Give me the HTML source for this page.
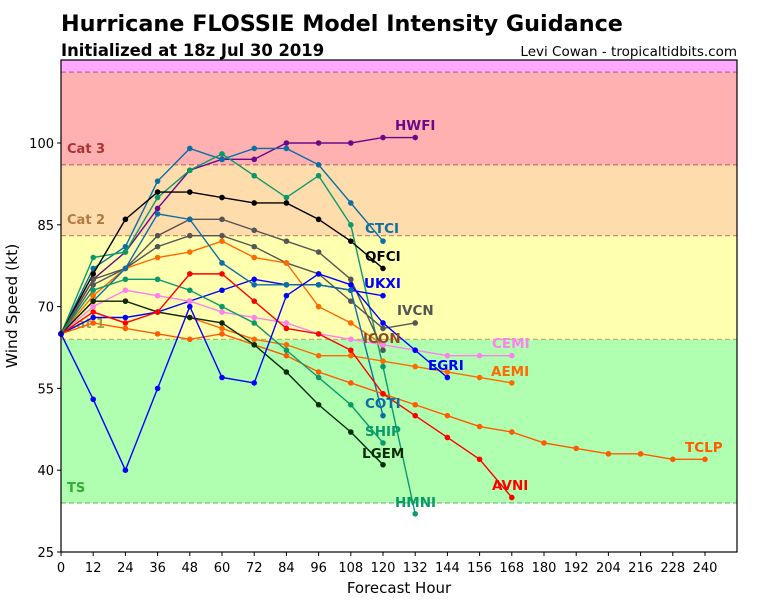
<!DOCTYPE html>
<html><head><meta charset="utf-8"><style>
body{margin:0;background:#fff;font-family:"Liberation Sans","DejaVu Sans",sans-serif}
svg text{font-family:"DejaVu Sans","Liberation Sans",sans-serif}
</style></head><body>
<svg id="chart" width="768" height="600" xmlns="http://www.w3.org/2000/svg">
<text x="61" y="31" font-size="22.3" font-weight="bold">Hurricane FLOSSIE Model Intensity Guidance</text>
<text x="61" y="56" font-size="16.4" font-weight="bold">Initialized at 18z Jul 30 2019</text>
<text x="737" y="56" font-size="13.5" text-anchor="end">Levi Cowan - tropicaltidbits.com</text>
<text transform="translate(17,306) rotate(-90)" font-size="15.5" text-anchor="middle">Wind Speed (kt)</text>
<text x="399" y="593" font-size="15" text-anchor="middle">Forecast Hour</text>
<g id="bands"></g><g id="grid"></g><g id="series"></g><g id="labels"></g><g id="axes"></g>
</svg>
<script>
const hours = [0,12,24,36,48,60,72,84,96,108,120,132,144,156,168,180,192,204,216,228,240];
const xTicks = [0,12,24,36,48,60,72,84,96,108,120,132,144,156,168,180,192,204,216,228,240];
const yTicks = [25,40,55,70,85,100];
const modelNames = ["HWFI","CTCI","HMNI","QFCI","IVCN","ICON","OFCL2","UKXI","COTI","CEMI","AEMI","TCLP","LGEM","SHIP","AVNI","EGRI"];
const HWFI = [65,75,80,88,95,97,97,100,100,100,101,101];
const CTCI = [65,77,81,93,99,97,99,99,96,89,82];
const HMNI = [65,79,80,90,95,98,94,90,94,85,59,32];
const QFCI = [65,76,86,91,91,90,89,89,86,82,77];
const IVCN = [65,74,77,81,83,83,81,78,76,71,66,67];
const ICON = [65,75,77,83,86,86,84,82,80,75,62];
const OFCL2 = [65,72,77,79,80,82,79,78,70,67,63];
const UKXI = [65,68,68,69,71,73,75,74,74,73,72];
const COTI = [65,71,77,87,86,78,74,74,74,73,50];
const CEMI = [65,70,73,72,71,69,68,67,65,64,63,62,61,61,61];
const AEMI = [65,71,71,69,68,66,64,63,61,61,60,59,58,57,56];
const TCLP = [65,67,66,65,64,65,63,61,58,56,54,52,50,48,47,45,44,43,43,42,42];
const LGEM = [65,71,71,69,68,67,63,58,52,47,41];
const SHIP = [65,73,75,75,73,70,67,62,57,52,45];
const AVNI = [65,69,67,69,76,76,71,66,65,62,54,50,46,42,35];
const EGRI = [65,53,40,55,70,57,56,72,76,74,67,62,57];
const seriesData = {HWFI,CTCI,HMNI,QFCI,IVCN,ICON,OFCL2,UKXI,COTI,CEMI,AEMI,TCLP,LGEM,SHIP,AVNI,EGRI};
const colors = {HWFI:"#6a0a8a",CTCI:"#0b6fa4",HMNI:"#0a9a6a",QFCI:"#000",IVCN:"#555",ICON:"#555",OFCL2:"#ff6a00",UKXI:"#0000ff",COTI:"#0b6fa4",CEMI:"#ff80ee",AEMI:"#ff6a00",TCLP:"#ff5a00",LGEM:"#0a2a0a",SHIP:"#0a9a6a",AVNI:"#ff0000",EGRI:"#0000ff"};
const labelStyle = {HWFI:[395,130,"#6a0a8a"],CTCI:[365,233,"#0b6fa4"],QFCI:[365,261,"#000"],UKXI:[364,288,"#0000ff"],IVCN:[397,315,"#555"],ICON:[363,343,"#8b4a20"],CEMI:[492,348,"#ff80ee"],EGRI:[428,370,"#0000ff"],AEMI:[491,376,"#ff6a00"],COTI:[365,408,"#0b6fa4"],SHIP:[365,436,"#0a9a6a"],LGEM:[362,458,"#0a2a0a"],HMNI:[395,507,"#0a9a6a"],AVNI:[492,490,"#ff0000"],TCLP:[685,452,"#ff5a00"]};
const bandLimits = [[25,34,"#ffffff","#ffffff"],[34,64,"#b0ffb0","#66bb66"],[64,83,"#ffffb0","#bbaa66"],[83,96,"#ffdcac","#bb8855"],[96,113,"#ffb0b0","#bb6666"],[113,116,"#ffaaff","#bb66bb"]];
const bandText = [["TS",492,"#33aa33"],["Cat 1",328,"#a8a040"],["Cat 2",224,"#b07a40"],["Cat 3",153,"#aa3333"]];

const X0=61,X1=737,Y0=60,Y1=552;
const xs = h => X0 + h*(644/240);
const ys = v => Y1 - (v-25)*(409/75);
const NS="http://www.w3.org/2000/svg";
function mk(tag,attrs,parent){const e=document.createElementNS(NS,tag);for(const k in attrs)e.setAttribute(k,attrs[k]);parent.appendChild(e);return e;}
const bands=document.getElementById('bands');
bandLimits.forEach((b,i)=>{
  const top=Math.max(Y0,ys(b[1])), bot=ys(b[0]);
  const r=mk('rect',{x:X0,y:top,width:X1-X0,height:bot-top,fill:b[2]},bands);
  
  
  if(i>0){const l=mk('line',{x1:X0,x2:X1,y1:bot,y2:bot,stroke:b[3],'stroke-dasharray':'5,3','stroke-width':1.2},bands);
    
    }
});
bandText.forEach(t=>{const e=mk('text',{x:67,y:t[1],fill:t[2],'font-size':13,'font-weight':'bold'},bands);e.textContent=t[0];
  
  });
const ser=document.getElementById('series');
modelNames.forEach(m=>{
  const d=seriesData[m];const g=mk('g',{},ser);
  
  
  mk('polyline',{points:d.map((v,i)=>xs(hours[i])+','+ys(v)).join(' '),fill:'none',stroke:colors[m],'stroke-width':1.4},g);
  d.forEach((v,i)=>{const c=mk('circle',{cx:xs(hours[i]),cy:ys(v),r:2.8,fill:colors[m]},g);
    
    });
});
const lab=document.getElementById('labels');
Object.keys(labelStyle).forEach(m=>{const s=labelStyle[m];const e=mk('text',{x:s[0],y:s[1],fill:s[2],'font-size':13.5,'font-weight':'bold'},lab);e.textContent=m;
  
  });
const ax=document.getElementById('axes');
const fr=mk('rect',{x:X0,y:Y0,width:X1-X0,height:Y1-Y0,fill:'none',stroke:'#000','stroke-width':1.2},ax);


xTicks.forEach(h=>{mk('line',{x1:xs(h),x2:xs(h),y1:Y1,y2:Y1+4,stroke:'#000'},ax);
  const t=mk('text',{x:xs(h),y:Y1+20,'font-size':13,'text-anchor':'middle'},ax);t.textContent=h;
  
  });
yTicks.forEach(v=>{mk('line',{x1:X0-4,x2:X0,y1:ys(v),y2:ys(v),stroke:'#000'},ax);
  const t=mk('text',{x:X0-7,y:ys(v)+5,'font-size':13,'text-anchor':'end'},ax);t.textContent=v;
  
  });
</script>
</body></html>
